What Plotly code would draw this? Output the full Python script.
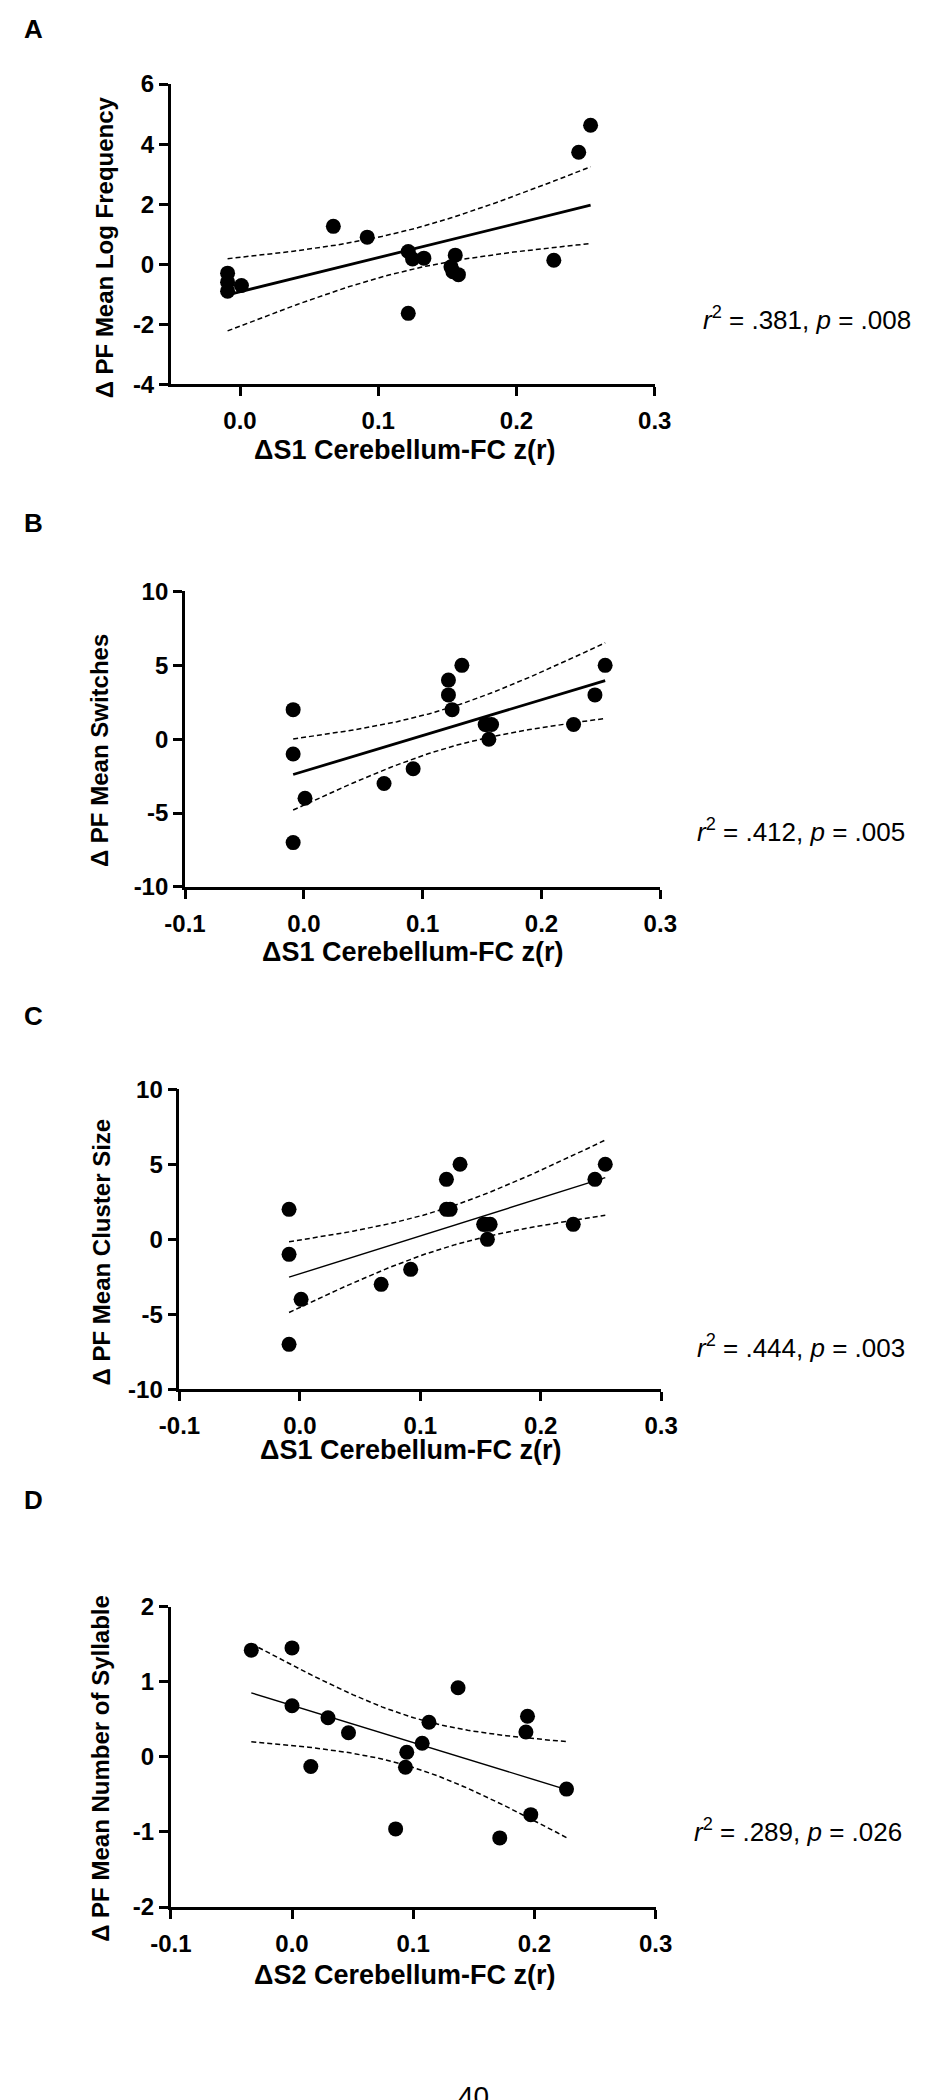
import numpy as np
import plotly.graph_objects as go

# ---------------- data ----------------
s1_x = [-0.009, -0.009, -0.009, 0.001, 0.0675, 0.092, 0.1217, 0.1217, 0.1248,
        0.133, 0.1526, 0.154, 0.1557, 0.158, 0.227, 0.245, 0.2536]
a_y = [-0.30, -0.60, -0.90, -0.71, 1.26, 0.90, 0.42, -1.64, 0.17,
       0.20, -0.09, -0.25, 0.30, -0.35, 0.13, 3.73, 4.63]
b_y = [2, -1, -7, -4, -3, -2, 4, 3, 2, 5, 1, 1, 0, 1, 1, 3, 5]
c_y = [2, -1, -7, -4, -3, -2, 4, 2, 2, 5, 1, 1, 0, 1, 1, 4, 5]
s2_x = [-0.0336, 0.0, 0.0, 0.0155, 0.0297, 0.0466, 0.0855, 0.0947, 0.0936,
        0.1074, 0.113, 0.137, 0.1714, 0.1943, 0.193, 0.197, 0.2265]
d_y = [1.42, 1.45, 0.68, -0.13, 0.52, 0.32, -0.96, 0.06, -0.14,
       0.18, 0.46, 0.92, -1.08, 0.54, 0.33, -0.77, -0.43]

panel_letters = ["A", "B", "C", "D"]
y_titles = ["\u0394 PF Mean Log Frequency", "\u0394 PF Mean Switches",
            "\u0394 PF Mean Cluster Size", "\u0394 PF Mean Number of Syllable"]
x_titles = ["\u0394S1 Cerebellum-FC z(r)", "\u0394S1 Cerebellum-FC z(r)",
            "\u0394S1 Cerebellum-FC z(r)", "\u0394S2 Cerebellum-FC z(r)"]
stats_text = ["<i>r</i><sup>2</sup> = .381, <i>p</i> = .008",
              "<i>r</i><sup>2</sup> = .412, <i>p</i> = .005",
              "<i>r</i><sup>2</sup> = .444, <i>p</i> = .003",
              "<i>r</i><sup>2</sup> = .289, <i>p</i> = .026"]
x_ranges = [[-0.05, 0.3], [-0.1, 0.3], [-0.1, 0.3], [-0.1, 0.3]]
x_ticks = [[0.0, 0.1, 0.2, 0.3], [-0.1, 0.0, 0.1, 0.2, 0.3],
           [-0.1, 0.0, 0.1, 0.2, 0.3], [-0.1, 0.0, 0.1, 0.2, 0.3]]
y_ranges = [[-4, 6], [-10, 10], [-10, 10], [-2, 2]]
y_ticks = [[-4, -2, 0, 2, 4, 6], [-10, -5, 0, 5, 10], [-10, -5, 0, 5, 10],
           [-2, -1, 0, 1, 2]]

# ---------------- layout geometry (pixels) ----------------
W, H = 931, 2100
boxes = [  # left, right, top, bottom
    (156.3, 660.7, 71.0, 375.0),
    (171.0, 666.5, 585.0, 884.3),
    (165.2, 667.4, 1089.3, 1393.3),
    (156.2, 661.6, 1613.3, 1917.7),
]
fit_widths = [2.8, 2.8, 1.4, 1.4]
letter_y = [15, 516, 1015, 1505]
ytitle_pos = [(88, 236), (82, 746), (84, 1254), (82, 1777)]
xtitle_pos = [(400, 442), (408, 950), (406, 1455), (400, 1987)]
stats_pos = [(709, 308), (703, 827), (703, 1350), (700, 1840)]

def px(x):
    return x / W

def py(y):
    return 1 - y / H

T_CRIT = 2.131  # t(0.975, df=15)

fig = go.Figure()
series = [(s1_x, a_y), (s1_x, b_y), (s1_x, c_y), (s2_x, d_y)]
annotations = []
FONT = "Liberation Sans, Arial, sans-serif"

for i, (xs, ys) in enumerate(series):
    k = i + 1
    xa = "x" if k == 1 else f"x{k}"
    ya = "y" if k == 1 else f"y{k}"
    x = np.array(xs, float)
    y = np.array(ys, float)
    n = len(x)
    b1, b0 = np.polyfit(x, y, 1)
    resid = y - (b0 + b1 * x)
    s = np.sqrt(np.sum(resid ** 2) / (n - 2))
    sxx = np.sum((x - x.mean()) ** 2)
    grid = np.linspace(x.min(), x.max(), 100)
    fit = b0 + b1 * grid
    half = T_CRIT * s * np.sqrt(1 / n + (grid - x.mean()) ** 2 / sxx)

    for band in (fit + half, fit - half):
        fig.add_trace(go.Scatter(x=grid, y=band, mode="lines", xaxis=xa, yaxis=ya,
                                 line=dict(color="black", width=1.5, dash="5px,3px"),
                                 showlegend=False, hoverinfo="skip"))
    fig.add_trace(go.Scatter(x=grid, y=fit, mode="lines", xaxis=xa, yaxis=ya,
                             line=dict(color="black", width=fit_widths[i]),
                             showlegend=False))
    fig.add_trace(go.Scatter(x=x, y=y, mode="markers", xaxis=xa, yaxis=ya,
                             marker=dict(color="black", size=15),
                             showlegend=False))

    l, r, t, b = boxes[i]
    axis_common = dict(showline=True, linecolor="black", linewidth=2.8,
                       ticks="outside", ticklen=9, tickwidth=2.8, tickcolor="black",
                       showgrid=False, zeroline=False,
                       tickfont=dict(family=FONT, size=24, color="black", weight="bold"))
    fig.update_layout(**{
        ("xaxis" if k == 1 else f"xaxis{k}"): dict(
            domain=[px(l), px(r)], anchor=ya, range=x_ranges[i],
            tickvals=x_ticks[i], ticktext=[f"{v:.1f}" for v in x_ticks[i]],
            ticklabelstandoff=4, **axis_common),
        ("yaxis" if k == 1 else f"yaxis{k}"): dict(
            domain=[py(b), py(t)], anchor=xa, range=y_ranges[i],
            tickvals=y_ticks[i], ticktext=[str(v) for v in y_ticks[i]],
            **axis_common),
    })

    annotations.append(dict(text=panel_letters[i], x=px(1), y=py(letter_y[i]),
                            xref="paper", yref="paper", xanchor="left", yanchor="middle",
                            showarrow=False,
                            font=dict(family=FONT, size=26, color="black", weight="bold")))
    annotations.append(dict(text=y_titles[i], x=px(ytitle_pos[i][0]), y=py(ytitle_pos[i][1]),
                            xref="paper", yref="paper", xanchor="center", yanchor="middle",
                            textangle=-90, showarrow=False,
                            font=dict(family=FONT, size=24, color="black", weight="bold")))
    annotations.append(dict(text=x_titles[i], x=px(xtitle_pos[i][0]), y=py(xtitle_pos[i][1]),
                            xref="paper", yref="paper", xanchor="center", yanchor="middle",
                            showarrow=False,
                            font=dict(family=FONT, size=27, color="black", weight="bold")))
    annotations.append(dict(text=stats_text[i], x=px(stats_pos[i][0]), y=py(stats_pos[i][1]),
                            xref="paper", yref="paper", xanchor="left", yanchor="middle",
                            showarrow=False,
                            font=dict(family=FONT, size=26, color="black")))

annotations.append(dict(text="40", x=px(472), y=py(2092), xref="paper", yref="paper",
                        xanchor="center", yanchor="top", showarrow=False,
                        font=dict(family=FONT, size=28, color="black")))

fig.update_layout(width=W, height=H, margin=dict(l=0, r=0, t=0, b=0),
                  paper_bgcolor="white", plot_bgcolor="white",
                  annotations=annotations, showlegend=False)

fig.write_html("out.html", config={"displayModeBar": False},
               post_script="document.body.style.margin='0px';document.body.style.padding='0px';")
